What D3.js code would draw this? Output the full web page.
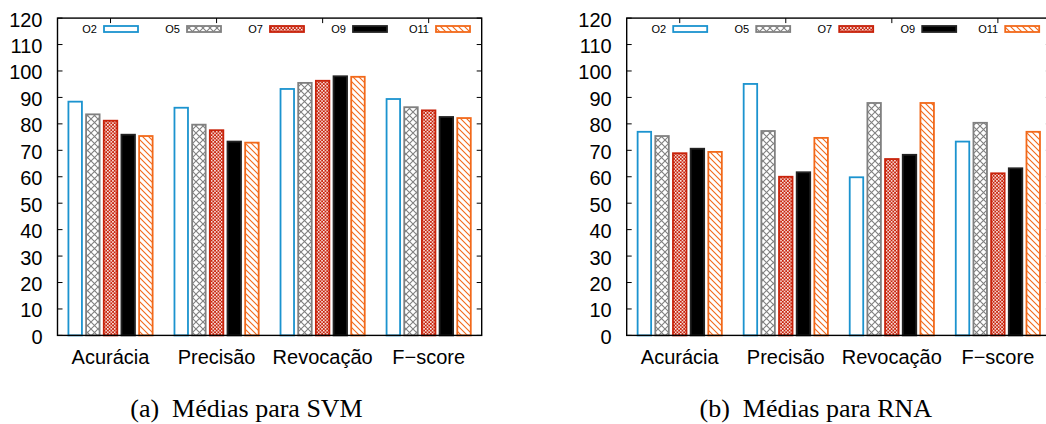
<!DOCTYPE html>
<html>
<head>
<meta charset="utf-8">
<script src="https://cdn.jsdelivr.net/npm/d3@7"></script>
<style>
  html, body { margin: 0; padding: 0; background: #fff; }
  svg { display: block; }
</style>
</head>
<body>
<svg id="chart" width="1046" height="424"></svg>
<script>
// Metric categories on the x axis
const categories = ["Acurácia", "Precisão", "Revocação", "F\u2212score"];
// Configurations compared in each group
const series = ["O2", "O5", "O7", "O9", "O11"];
// Y axis ticks
const yTicks = [0, 10, 20, 30, 40, 50, 60, 70, 80, 90, 100, 110, 120];

// (a) SVM averages, one array per configuration (Acurácia, Precisão, Revocação, F-score)
const svmO2  = [88.4, 86.1, 93.2, 89.4];
const svmO5  = [83.6, 79.7, 95.5, 86.3];
const svmO7  = [81.2, 77.6, 96.3, 85.1];
const svmO9  = [75.9, 73.3, 98.0, 82.6];
const svmO11 = [75.4, 72.9, 97.8, 82.2];

// (b) RNA averages
const rnaO2  = [77.0, 95.1, 59.8, 73.3];
const rnaO5  = [75.4, 77.3, 87.9, 80.4];
const rnaO7  = [68.9, 60.0, 66.7, 61.3];
const rnaO9  = [70.6, 61.7, 68.3, 63.2];
const rnaO11 = [69.4, 74.7, 87.9, 77.0];

const captions = ["(a)", "(b)"];
const captionTexts = ["Médias para SVM", "Médias para RNA"];

const svm = [svmO2, svmO5, svmO7, svmO9, svmO11];
const rna = [rnaO2, rnaO5, rnaO7, rnaO9, rnaO11];

const svg = d3.select("#chart");
const defs = svg.append("defs");

const BLUE = "#1b93cf", GRAY = "#808080", RED = "#c8220a", ORANGE = "#f2691a";

// Crosshatch (O5)
const pX = defs.append("pattern").attr("id", "pat-cross")
  .attr("patternUnits", "userSpaceOnUse").attr("width", 7).attr("height", 7);
pX.append("rect").attr("width", 7).attr("height", 7).attr("fill", "#fff");
pX.append("path").attr("d", "M0,0L7,7M7,0L0,7").attr("stroke", GRAY)
  .attr("stroke-width", 1.1).attr("fill", "none");

// Fine checker (O7)
const pC = defs.append("pattern").attr("id", "pat-check")
  .attr("patternUnits", "userSpaceOnUse").attr("width", 3.4).attr("height", 3.4);
pC.append("rect").attr("width", 3.4).attr("height", 3.4).attr("fill", RED);
pC.append("rect").attr("x", 0).attr("y", 0).attr("width", 1.5).attr("height", 1.5).attr("fill", "#fff");
pC.append("rect").attr("x", 1.7).attr("y", 1.7).attr("width", 1.5).attr("height", 1.5).attr("fill", "#fff");

// Diagonal hatch (O11)
const pD = defs.append("pattern").attr("id", "pat-diag")
  .attr("patternUnits", "userSpaceOnUse").attr("width", 6).attr("height", 6);
pD.append("rect").attr("width", 6).attr("height", 6).attr("fill", "#fff");
pD.append("path").attr("d", "M-1,-1L7,7M-1,5L1,7M5,-1L7,1").attr("stroke", ORANGE)
  .attr("stroke-width", 1.1).attr("fill", "none");

const styles = [
  { fill: "#fff", stroke: BLUE },
  { fill: "url(#pat-cross)", stroke: GRAY },
  { fill: "url(#pat-check)", stroke: RED },
  { fill: "#000", stroke: "#222" },
  { fill: "url(#pat-diag)", stroke: ORANGE }
];

const yTop = 18.1, yBottom = 335.4;
const y = d3.scaleLinear().domain([0, 120]).range([yBottom, yTop]);

function drawPanel(x0, x1, data, capLabel, capText, capX) {
  const g = svg.append("g");
  const x = d3.scaleBand().domain(categories).range([x0, x1]).padding(0);
  const band = x.bandwidth();
  const xs = d3.scaleBand().domain(series)
    .range([band / 12, band * 11 / 12]).paddingInner(0.236).paddingOuter(0.118);

  // inward ticks: y on both sides, x on top and bottom
  const tk = 5;
  yTicks.forEach(t => {
    g.append("line").attr("x1", x0).attr("x2", x0 + tk).attr("y1", y(t)).attr("y2", y(t))
      .attr("stroke", "#000").attr("stroke-width", 1);
    g.append("line").attr("x1", x1).attr("x2", x1 - tk).attr("y1", y(t)).attr("y2", y(t))
      .attr("stroke", "#000").attr("stroke-width", 1);
    g.append("text").attr("x", x0 - 15).attr("y", y(t) + 8.5)
      .attr("text-anchor", "end").attr("font-family", "Liberation Sans, Arial, sans-serif")
      .attr("font-size", 20).attr("fill", "#000").text(t);
  });
  categories.forEach(c => {
    const cx = x(c) + band / 2;
    g.append("line").attr("x1", cx).attr("x2", cx).attr("y1", yTop).attr("y2", yTop + tk)
      .attr("stroke", "#000").attr("stroke-width", 1);
    g.append("line").attr("x1", cx).attr("x2", cx).attr("y1", yBottom).attr("y2", yBottom - tk)
      .attr("stroke", "#000").attr("stroke-width", 1);
    g.append("text").attr("x", cx).attr("y", 364)
      .attr("text-anchor", "middle").attr("font-family", "Liberation Sans, Arial, sans-serif")
      .attr("font-size", 20).attr("fill", "#000").text(c);
  });

  // bars
  series.forEach((s, i) => {
    g.append("g").selectAll("rect").data(data[i]).join("rect")
      .attr("x", (d, j) => x(categories[j]) + xs(s))
      .attr("width", xs.bandwidth())
      .attr("y", d => y(d))
      .attr("height", d => y(0) - y(d))
      .attr("fill", styles[i].fill)
      .attr("stroke", styles[i].stroke)
      .attr("stroke-width", 1.8);
  });

  // frame
  g.append("rect").attr("x", x0).attr("y", yTop).attr("width", x1 - x0).attr("height", yBottom - yTop)
    .attr("fill", "none").attr("stroke", "#000").attr("stroke-width", 1.4);

  // legend
  series.forEach((s, i) => {
    const bx = x0 + 46.5 + i * 83;
    g.append("text").attr("x", bx - 7).attr("y", 33)
      .attr("text-anchor", "end").attr("font-family", "Liberation Sans, Arial, sans-serif")
      .attr("font-size", 11).attr("fill", "#000").text(s);
    g.append("rect").attr("x", bx).attr("y", 26).attr("width", 34).attr("height", 6)
      .attr("fill", styles[i].fill).attr("stroke", styles[i].stroke).attr("stroke-width", 1.8);
  });

  // caption
  const cap = svg.append("text").attr("x", capX).attr("y", 417)
    .attr("text-anchor", "middle").attr("font-family", "Liberation Serif, Times New Roman, serif")
    .attr("font-size", 26).attr("fill", "#000");
  cap.append("tspan").text(capLabel);
  cap.append("tspan").attr("dx", 13).text(capText);
}

drawPanel(57.5, 481.7, svm, captions[0], captionTexts[0], 246.5);
drawPanel(626.7, 1050.9, rna, captions[1], captionTexts[1], 815.8);
</script>
</body>
</html>
